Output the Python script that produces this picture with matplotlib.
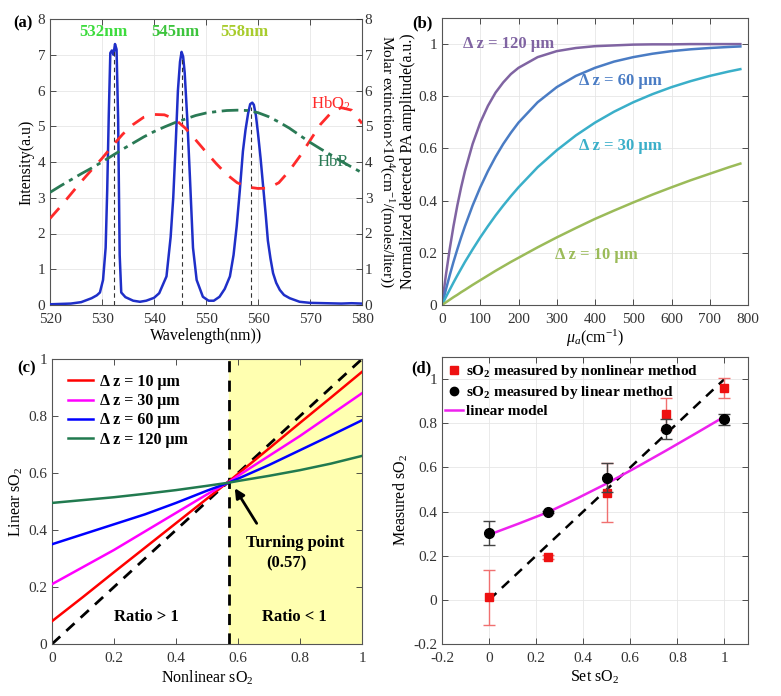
import matplotlib
matplotlib.use("Agg")
import matplotlib.pyplot as plt
from matplotlib.lines import Line2D

plt.rcParams["font.family"] = "Liberation Serif"
plt.rcParams["mathtext.fontset"] = "custom"
plt.rcParams["mathtext.rm"] = "Liberation Serif"
plt.rcParams["mathtext.it"] = "Liberation Serif:italic"
plt.rcParams["mathtext.bf"] = "Liberation Serif:bold"
plt.rcParams["font.size"] = 10

# (a) LED spectrum and hemoglobin extinction
spec_wl = [520, 522, 524, 526, 528, 529, 529.6, 530.2, 530.7, 531.0, 531.3, 531.6, 531.9,
           532.2, 532.5, 532.8, 533.1, 533.4, 533.7, 534.5, 536, 537.3, 538.5, 540, 541,
           542.4, 543.2, 543.7, 544.2, 544.6, 545.0, 545.3, 545.6, 545.9, 546.4, 546.9,
           547.5, 548.2, 549.4, 550.5, 551.5, 552.6, 553.6, 554.6, 555.3, 555.9, 556.5,
           557.1, 557.6, 558.1, 558.5, 558.9, 559.2, 559.6, 560.0, 560.5, 561.0, 561.5,
           561.9, 562.4, 562.9, 563.5, 564.2, 565, 566.1, 568, 570, 573, 576, 578, 580]
spec_int = [0.02, 0.03, 0.04, 0.08, 0.19, 0.27, 0.35, 0.7, 1.6, 3.2, 5.3, 7.05, 7.12,
            7.0, 7.3, 7.15, 5.2, 1.4, 0.35, 0.22, 0.12, 0.09, 0.12, 0.2, 0.33,
            0.8, 1.9, 3.0, 4.6, 6.0, 6.8, 7.08, 6.95, 6.5, 5.2, 3.6,
            1.6, 0.7, 0.23, 0.12, 0.12, 0.23, 0.45, 0.8, 1.4, 2.2, 3.2,
            4.3, 4.9, 5.36, 5.62, 5.66, 5.6, 5.3, 4.8, 4.1, 3.3, 2.5,
            1.8, 1.3, 0.89, 0.62, 0.42, 0.28, 0.19, 0.09, 0.06, 0.05, 0.04, 0.05, 0.04]

ext_wl = [520, 522, 524, 526, 528, 530, 532, 534, 536, 538, 540, 542, 544, 546, 548,
          550, 552, 554, 556, 558, 560, 562, 564, 566, 568, 570, 572, 574, 576, 578, 580]
hbo2 = [2.42, 2.75, 3.1, 3.45, 3.78, 4.1, 4.45, 4.78, 5.05, 5.25, 5.33, 5.32, 5.2, 4.95, 4.62,
        4.28, 3.95, 3.65, 3.42, 3.3, 3.26, 3.27, 3.42, 3.75, 4.15, 4.6, 5.05, 5.37, 5.52, 5.45, 5.08]
hbr = [3.15, 3.33, 3.5, 3.67, 3.83, 4.0, 4.18, 4.36, 4.53, 4.7, 4.85, 4.98, 5.1, 5.2, 5.3,
       5.37, 5.41, 5.44, 5.45, 5.44, 5.38, 5.27, 5.12, 4.95, 4.75, 4.55, 4.37, 4.2, 4.02, 3.86, 3.7]

peak_wl = [532.3, 545.4, 558.6]
peak_top = [7.1, 6.95, 5.55]
peak_names = ["532nm", "545nm", "558nm"]
peak_colors = ["#3ddc3d", "#3cc43c", "#a8cc2c"]

# (b) normalized PA amplitude vs absorption coefficient
mu_a = [0, 10, 20, 30, 40, 50, 60, 80, 100, 120, 140, 160, 180, 200, 250, 300, 350,
        400, 450, 500, 550, 600, 650, 700, 750, 780]
pa_120 = [0, 0.113, 0.213, 0.302, 0.381, 0.451, 0.513, 0.617, 0.699, 0.763, 0.814, 0.853,
          0.885, 0.909, 0.950, 0.973, 0.985, 0.992, 0.995, 0.998, 0.999, 0.999, 1.0, 1.0, 1.0, 1.0]
pa_60 = [0, 0.058, 0.113, 0.165, 0.213, 0.259, 0.302, 0.381, 0.451, 0.513, 0.568, 0.617,
         0.660, 0.699, 0.777, 0.835, 0.878, 0.909, 0.933, 0.950, 0.963, 0.973, 0.980, 0.985,
         0.989, 0.991]
pa_30 = [0, 0.030, 0.058, 0.086, 0.113, 0.139, 0.165, 0.213, 0.259, 0.302, 0.343, 0.381,
         0.417, 0.451, 0.528, 0.593, 0.650, 0.699, 0.741, 0.777, 0.808, 0.835, 0.858, 0.878,
         0.895, 0.904]
pa_10 = [0, 0.010, 0.020, 0.030, 0.039, 0.049, 0.058, 0.077, 0.095, 0.113, 0.131, 0.148,
         0.165, 0.181, 0.221, 0.259, 0.295, 0.330, 0.362, 0.393, 0.423, 0.451, 0.478, 0.503,
         0.528, 0.542]

# (c) linear vs nonlinear sO2
nl_so2 = [0, 0.1, 0.2, 0.3, 0.4, 0.5, 0.57, 0.6, 0.7, 0.8, 0.9, 1.0]
lin_10 = [0.08, 0.165, 0.252, 0.338, 0.424, 0.51, 0.57, 0.597, 0.686, 0.776, 0.865, 0.955]
lin_30 = [0.21, 0.27, 0.33, 0.395, 0.46, 0.525, 0.568, 0.59, 0.66, 0.73, 0.805, 0.88]
lin_60 = [0.35, 0.385, 0.42, 0.455, 0.495, 0.538, 0.566, 0.58, 0.628, 0.68, 0.732, 0.785]
lin_120 = [0.495, 0.505, 0.515, 0.527, 0.54, 0.555, 0.566, 0.572, 0.59, 0.61, 0.633, 0.66]
turning = 0.57

# (d) phantom measurements
set_so2 = [0, 0.25, 0.5, 0.75, 1.0]
nonlin_meas = [0.012, 0.194, 0.485, 0.841, 0.958]
nonlin_err = [0.125, 0.01, 0.133, 0.072, 0.045]
lin_meas = [0.303, 0.398, 0.553, 0.773, 0.817]
lin_err = [0.053, 0.006, 0.065, 0.046, 0.024]
model_x = [0, 0.125, 0.25, 0.375, 0.5, 0.625, 0.75, 0.875, 1.0]
model_y = [0.295, 0.345, 0.397, 0.46, 0.527, 0.6, 0.675, 0.752, 0.83]

W, H = 781, 696
LABEL = 11.5
fig = plt.figure(figsize=(W / 100, H / 100), dpi=100)


def box(l, t, r, b):
    return [l / W, 1 - b / H, (r - l) / W, (b - t) / H]


def style(ax, grid=True):
    for s in ax.spines.values():
        s.set_color("#555555")
        s.set_linewidth(0.8)
    ax.tick_params(direction="in", length=4, width=0.6, colors="#333333", labelsize=11,
                   top=True, right=True)
    ax.tick_params(axis="x", pad=6)
    if grid:
        ax.grid(True, color="#e6e6e6", linewidth=0.6)
        ax.set_axisbelow(True)


# ---- (a)
ax = fig.add_axes(box(50, 19, 362, 305))
style(ax)
ax.tick_params(right=False)
ax.plot(spec_wl, spec_int, color="#1f2fc8", lw=1.8, zorder=3)
for w, t in zip(peak_wl, peak_top):
    ax.plot([w, w], [0, t], color="#333333", lw=0.8, ls=(0, (4, 3)), zorder=4)
for w, name, c in zip([530.2, 544.1, 557.4], peak_names, peak_colors):
    ax.text(w, 7.63, name, color=c, fontsize=12, fontweight="bold", ha="center", va="center")
ax.set_xlim(520, 580)
ax.set_ylim(0, 8)
ax.set_xticks(range(520, 581, 10))
ax.set_yticks(range(0, 9))
ax.set_xlabel("Wavelength(nm))", fontsize=LABEL, labelpad=1)
ax.set_ylabel("Intensity(a.u)", fontsize=LABEL, labelpad=2)
ax2 = ax.twinx()
ax2.plot(ext_wl, hbo2, color="#ff2a2a", lw=2, ls=(0, (5, 4)), zorder=2)
ax2.plot(ext_wl, hbr, color="#2a7a55", lw=2, ls=(0, (6, 2, 1.5, 2)), zorder=2)
ax2.text(574, 5.62, "HbO$_2$", color="#ff2a2a", fontsize=12, ha="center", va="center")
ax2.text(574.4, 4.0, "HbR", color="#2a7a55", fontsize=12, ha="center", va="center")
ax2.set_ylim(0, 8)
ax2.set_yticks(range(0, 9))
ax2.tick_params(direction="in", length=4, width=0.6, colors="#333333", labelsize=11, pad=2)
ax2.set_ylabel("Molar extinction×10$^4$(cm$^{-1}$/(moles/liter))", fontsize=11,
               rotation=270, va="center", ha="center")
ax2.yaxis.set_label_coords((386 - 50) / 312, 0.5)
for s in ax2.spines.values():
    s.set_visible(False)
fig.text(13 / W, 1 - 23 / H, "(a)", fontsize=12, fontweight="bold", va="center")

# ---- (b)
ax = fig.add_axes(box(442, 18, 748, 305))
style(ax)
curves_b = [(pa_120, "#8064a2", "Δ z = 120 μm", 55, 1.0),
            (pa_60, "#4a7cc4", "Δ z = 60 μm", 357, 0.86),
            (pa_30, "#3aafc9", "Δ z = 30 μm", 357, 0.61),
            (pa_10, "#9bbb59", "Δ z = 10 μm", 296, 0.19)]
for ys, c, lab, tx, ty in curves_b:
    ax.plot(mu_a, ys, color=c, lw=1.8)
    ax.text(tx, ty, lab, color=c, fontsize=12, fontweight="bold", va="center", ha="left")
ax.set_xlim(0, 800)
ax.set_ylim(0, 1.1)
ax.set_xticks(range(0, 801, 100))
ax.set_yticks([0, 0.2, 0.4, 0.6, 0.8, 1.0])
ax.set_yticklabels(["0", "0.2", "0.4", "0.6", "0.8", "1"])
ax.set_xlabel("$\\mathit{\\mu_a}$(cm$^{-1}$)", fontsize=LABEL, labelpad=1)
ax.set_ylabel("Normalized detected PA amplitude(a.u.)", fontsize=LABEL, va="center")
ax.yaxis.set_label_coords((408 - 442) / 306, 0.5)
fig.text(412 / W, 1 - 23 / H, "(b)", fontsize=12, fontweight="bold", va="center")

# ---- (c)
ax = fig.add_axes(box(52, 359, 362, 644))
style(ax, grid=False)
ax.axvspan(turning, 1, color="#ffffb0", zorder=0)
ax.plot([0, 1], [0, 1], color="black", lw=2, ls=(0, (4, 3)), zorder=2)
ax.plot([turning, turning], [0, 1], color="black", lw=2, ls=(0, (4, 3)), zorder=2)
ax.plot(nl_so2, lin_10, color="#ff0000", lw=1.8, label="Δ z = 10 μm", zorder=3)
ax.plot(nl_so2, lin_30, color="#ff00ff", lw=1.8, label="Δ z = 30 μm", zorder=3)
ax.plot(nl_so2, lin_60, color="#0000ff", lw=1.8, label="Δ z = 60 μm", zorder=3)
ax.plot(nl_so2, lin_120, color="#217a4f", lw=1.8, label="Δ z = 120 μm", zorder=3)
ax.annotate("", xy=(0.585, 0.555), xytext=(0.665, 0.415),
            arrowprops=dict(arrowstyle="-|>", color="black", lw=2, mutation_scale=14))
ax.text(0.783, 0.353, "Turning point", fontsize=12, fontweight="bold", ha="center", va="center")
ax.text(0.757, 0.283, "(0.57)", fontsize=12, fontweight="bold", ha="center", va="center")
ax.text(0.306, 0.096, "Ratio > 1", fontsize=12, fontweight="bold", ha="center", va="center")
ax.text(0.783, 0.096, "Ratio < 1", fontsize=12, fontweight="bold", ha="center", va="center")
ax.set_xlim(0, 1)
ax.set_ylim(0, 1)
ticks = [0, 0.2, 0.4, 0.6, 0.8, 1.0]
ticklabels = ["0", "0.2", "0.4", "0.6", "0.8", "1"]
ax.set_xticks(ticks)
ax.set_xticklabels(ticklabels)
ax.set_yticks(ticks)
ax.set_yticklabels(ticklabels)
ax.set_xlabel("Nonlinear sO$_2$", fontsize=LABEL, labelpad=2)
ax.set_ylabel("Linear sO$_2$", fontsize=LABEL, labelpad=2)
ax.legend(loc="upper left", bbox_to_anchor=(0.03, 0.97), frameon=False,
          prop={"weight": "bold", "size": 11.5}, handlelength=1.6, handletextpad=0.4,
          labelspacing=0.2, borderaxespad=0)
fig.text(17 / W, 1 - 368 / H, "(c)", fontsize=12, fontweight="bold", va="center")

# ---- (d)
ax = fig.add_axes(box(442, 357, 748, 644))
style(ax)
ax.plot([0, 1], [0, 1], color="black", lw=1.8, ls=(0, (4, 3)), zorder=2)
ax.errorbar(set_so2, nonlin_meas, yerr=nonlin_err, fmt="none", ecolor="#f07070",
            elinewidth=1, capsize=4, zorder=3)
ax.plot(set_so2, nonlin_meas, "s", color="#ee1111", ms=6, zorder=3)
ax.errorbar(set_so2, lin_meas, yerr=lin_err, fmt="none", ecolor="#444444",
            elinewidth=1, capsize=4, zorder=4)
ax.plot(set_so2, lin_meas, "o", color="black", ms=7, zorder=4)
ax.plot(model_x, model_y, color="#ee22ee", lw=1.8, zorder=3)
handles = [Line2D([], [], ls="none", marker="s", color="#ee1111", ms=6),
           Line2D([], [], ls="none", marker="o", color="black", ms=6),
           Line2D([], [], color="#ee22ee", lw=1.8)]
labels = ["sO$_\\mathbf{2}$ measured by nonlinear method",
          "sO$_\\mathbf{2}$ measured by linear method",
          "linear model"]
ax.legend(handles, labels, loc="upper left", bbox_to_anchor=(-0.01, 1.0), frameon=False,
          prop={"weight": "bold", "size": 11}, handlelength=1.2, handletextpad=0.2,
          labelspacing=0.25, borderaxespad=0)
ax.set_xlim(-0.2, 1.1)
ax.set_ylim(-0.2, 1.1)
dt = [-0.2, 0, 0.2, 0.4, 0.6, 0.8, 1.0]
dtl = ["-0.2", "0", "0.2", "0.4", "0.6", "0.8", "1"]
ax.set_xticks(dt)
ax.set_xticklabels(dtl)
ax.set_yticks(dt)
ax.set_yticklabels(dtl)
ax.set_xlabel("Set sO$_2$", fontsize=LABEL, labelpad=2)
ax.set_ylabel("Measured sO$_2$", fontsize=LABEL, labelpad=2)
fig.text(411 / W, 1 - 368 / H, "(d)", fontsize=12, fontweight="bold", va="center")

fig.savefig("out.png", dpi=100)
